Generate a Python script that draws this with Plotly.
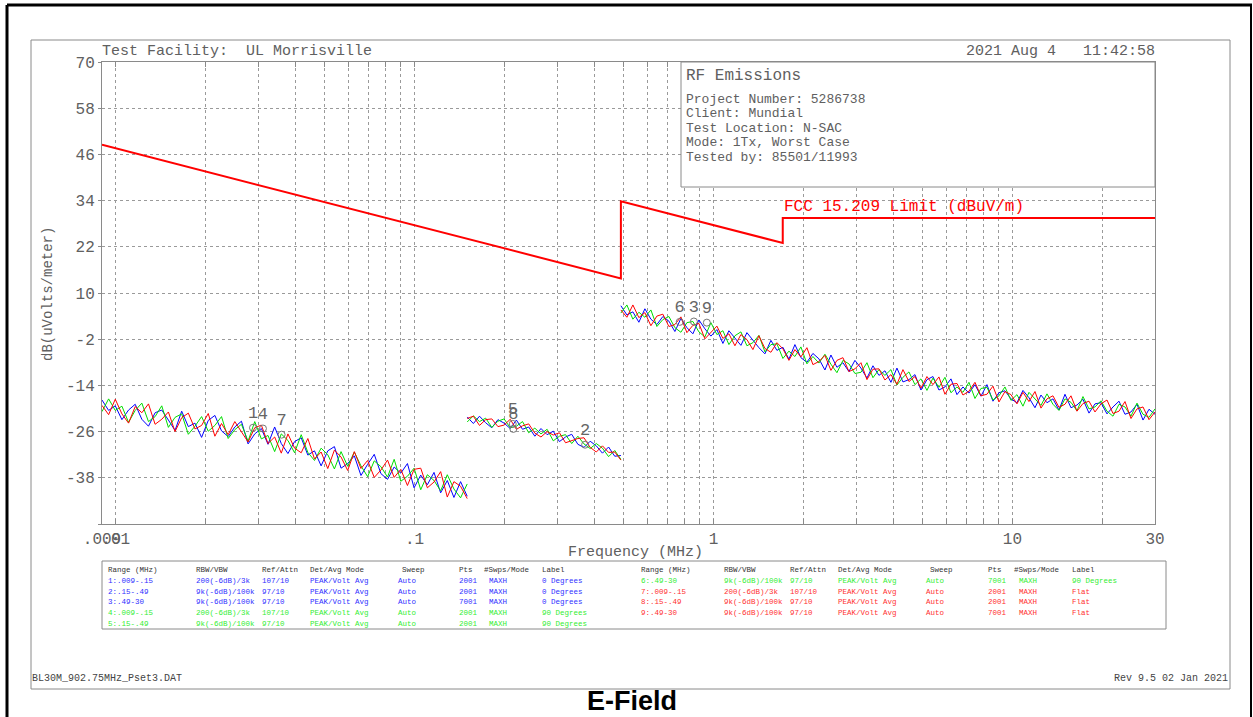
import numpy as np
import plotly.graph_objects as go

# ---------------------------------------------------------------- data
# Sweep sub-ranges (MHz); each stored trace is sampled evenly in log-frequency
range_1 = (0.009, 0.15)
range_2 = (0.15, 0.49)
range_3 = (0.49, 30.0)

# 0 Degrees antenna (blue)
blue_r1 = [-17.8, -20.5, -19.3, -22.9, -20.4, -18.9, -22.8, -24.6, -21.1, -20.4,
           -23.0, -25.7, -20.7, -24.7, -23.8, -27.5, -23.1, -21.8, -25.8, -27.3,
           -24.8, -23.3, -29.2, -26.6, -25.2, -29.3, -24.8, -29.1, -31.7, -28.6,
           -27.6, -32.1, -31.0, -34.9, -31.0, -29.9, -35.5, -34.3, -32.3, -37.4,
           -34.5, -31.9, -36.9, -38.4, -35.2, -36.8, -34.3, -40.6, -37.3, -39.8,
           -36.6, -41.9, -38.7, -43.1, -39.0, -42.8]
blue_r2 = [-22.2, -23.9, -22.0, -23.7, -25.0, -22.9, -23.8, -25.2, -23.0, -25.4,
           -24.8, -27.2, -25.2, -26.8, -25.9, -28.6, -27.4, -26.7, -29.3, -30.1,
           -28.5, -29.7, -31.6, -30.0, -32.4, -32.2]
blue_r3 = [6.7, 4.3, 5.1, 2.4, 5.9, 3.2, 1.8, 3.9, 2.7, 0.0,
           3.4, 1.0, -0.6, 3.0, 0.7, -1.2, 0.5, -3.1, 0.2, -1.7,
           -3.6, -0.3, -2.3, -4.2, -5.8, -2.3, -4.9, -4.1, -7.2, -3.4,
           -6.8, -8.0, -5.7, -7.1, -10.0, -6.1, -9.3, -8.1, -10.4, -7.5,
           -9.5, -12.1, -8.9, -11.4, -10.2, -13.2, -9.5, -13.1, -12.5, -11.2,
           -15.2, -12.5, -11.7, -15.2, -14.4, -12.3, -16.4, -14.4, -16.0, -13.8,
           -16.8, -13.8, -18.1, -15.9, -15.4, -17.5, -18.5, -15.3, -17.2, -19.8,
           -16.5, -18.5, -17.5, -20.4, -16.3, -19.8, -19.1, -17.6, -21.2, -18.8,
           -18.5, -21.4, -19.6, -18.1, -21.5, -20.9, -18.9, -23.0, -20.2, -21.5]

# 90 Degrees antenna (green)
green_r1 = [-20.8, -17.5, -20.5, -19.4, -23.6, -20.5, -18.6, -23.4, -22.1, -19.3,
            -24.9, -22.3, -21.4, -26.7, -24.6, -22.1, -25.9, -24.4, -22.1, -27.8,
            -25.5, -24.1, -28.5, -23.4, -27.9, -27.0, -31.2, -26.6, -28.3, -31.5,
            -26.8, -31.4, -33.5, -30.3, -32.0, -35.7, -31.2, -35.0, -31.3, -34.9,
            -37.7, -33.6, -35.1, -37.8, -33.2, -38.9, -37.6, -35.5, -41.1, -37.2,
            -38.7, -41.4, -37.2, -40.9, -43.2, -39.6]
green_r2 = [-23.5, -21.9, -23.4, -22.5, -24.9, -23.3, -22.7, -25.0, -24.6, -23.4,
            -26.3, -25.1, -26.6, -25.4, -28.4, -27.2, -26.8, -29.1, -27.2, -29.2,
            -30.4, -29.1, -30.3, -32.5, -30.9, -33.2]
green_r3 = [4.8, 6.9, 3.2, 5.0, 3.7, 5.6, 1.3, 3.1, 3.9, 1.0,
            -0.2, 2.3, 2.6, -0.1, -1.4, 2.3, -0.8, 0.2, -3.4, -1.1,
            -0.1, -3.7, -2.9, -1.0, -5.3, -3.4, -3.2, -7.0, -5.1, -6.5,
            -4.0, -8.4, -6.5, -8.2, -5.9, -8.5, -10.7, -7.5, -8.4, -10.9,
            -10.6, -8.1, -12.0, -9.9, -11.4, -9.9, -13.9, -11.9, -10.5, -13.8,
            -12.3, -15.3, -12.1, -14.5, -11.9, -15.9, -14.4, -15.8, -13.2, -17.4,
            -14.8, -14.5, -17.8, -16.7, -14.4, -17.9, -16.4, -19.4, -15.8, -17.4,
            -19.2, -16.2, -18.9, -20.5, -17.5, -18.4, -20.6, -16.9, -20.1, -19.6,
            -18.0, -20.7, -22.0, -18.9, -19.6, -22.0, -18.6, -21.5, -22.3, -20.1]

# Flat antenna (red)
red_r1 = [-19.2, -21.6, -17.6, -21.4, -23.8, -19.5, -21.1, -18.8, -24.1, -22.8,
          -20.9, -26.0, -22.4, -21.2, -25.3, -24.4, -21.3, -27.2, -23.9, -26.8,
          -23.4, -26.2, -28.7, -25.0, -24.3, -29.1, -27.4, -31.6, -26.6, -30.3,
          -31.5, -27.8, -33.1, -31.3, -35.6, -30.8, -32.6, -36.1, -31.2, -35.6,
          -33.5, -37.9, -36.0, -33.4, -37.9, -35.8, -40.0, -35.8, -35.5, -40.6,
          -39.1, -36.4, -43.0, -39.0, -40.2, -43.4]
red_r2 = [-22.6, -22.0, -24.4, -22.9, -22.7, -24.7, -24.3, -22.8, -25.4, -24.5,
          -24.0, -26.4, -27.4, -26.0, -26.9, -26.3, -28.9, -28.4, -27.8, -27.6,
          -30.1, -31.3, -29.7, -31.4, -31.3, -33.4]
red_r3 = [5.6, 3.7, 6.9, 3.6, 4.9, 1.5, 4.0, 4.5, 1.3, 1.8,
          3.8, -0.3, 1.6, 2.1, -1.9, -0.2, 1.4, -1.8, -0.6, -3.7,
          -0.8, -2.1, -4.7, -1.1, -4.4, -5.4, -2.9, -4.5, -7.5, -4.7,
          -6.6, -4.2, -8.6, -7.8, -6.2, -10.1, -7.5, -6.8, -10.4, -9.7,
          -8.1, -12.5, -9.8, -9.7, -12.6, -11.2, -13.7, -9.9, -13.0, -11.7,
          -14.7, -11.7, -13.8, -11.8, -16.3, -13.7, -13.5, -16.5, -15.5, -13.2,
          -16.7, -16.3, -14.2, -18.3, -15.6, -16.4, -18.8, -15.8, -18.2, -15.6,
          -19.9, -17.5, -16.7, -19.7, -18.9, -16.7, -20.7, -18.7, -18.1, -20.9,
          -18.8, -17.8, -21.3, -20.7, -18.2, -22.6, -20.1, -19.6, -22.9, -20.9]

# FCC 15.209 limit (dBuV/m)
limit_freq = [0.009, 0.49, 0.49, 1.705, 1.705, 30.0]
limit_level = [48.5, 13.8, 33.8, 23.0, 29.5, 29.5]

# Numbered markers
marker_ids = ["1", "4", "7", "5", "8", "2", "6", "3", "9"]
marker_freq = [0.0288, 0.0311, 0.0359, 0.213, 0.214, 0.372, 0.771, 0.86, 0.95]
marker_level = [-25.0, -25.2, -26.8, -24.0, -25.3, -29.4, 2.5, 2.6, 2.3]

# Axis ticks
y_ticks = [70, 58, 46, 34, 22, 10, -2, -14, -26, -38, -50]
x_labels = {0.009: ".009", 0.01: ".01", 0.1: ".1", 1: "1", 10: "10", 30: "30"}

# Info block
info_title = "RF Emissions"
info_lines = ["Project Number: 5286738", "Client: Mundial", "Test Location: N-SAC",
              "Mode: 1Tx, Worst Case", "Tested by: 85501/11993"]

# Trace setup table
table_header = ["Range (MHz)", "RBW/VBW", "Ref/Attn", "Det/Avg Mode", "Sweep", "Pts",
                "#Swps/Mode", "Label"]
table_left = [
    ["1:.009-.15", "200(-6dB)/3k", "107/10", "PEAK/Volt Avg", "Auto", "2001", "MAXH", "0 Degrees"],
    ["2:.15-.49", "9k(-6dB)/100k", "97/10", "PEAK/Volt Avg", "Auto", "2001", "MAXH", "0 Degrees"],
    ["3:.49-30", "9k(-6dB)/100k", "97/10", "PEAK/Volt Avg", "Auto", "7001", "MAXH", "0 Degrees"],
    ["4:.009-.15", "200(-6dB)/3k", "107/10", "PEAK/Volt Avg", "Auto", "2001", "MAXH", "90 Degrees"],
    ["5:.15-.49", "9k(-6dB)/100k", "97/10", "PEAK/Volt Avg", "Auto", "2001", "MAXH", "90 Degrees"],
]
table_right = [
    ["6:.49-30", "9k(-6dB)/100k", "97/10", "PEAK/Volt Avg", "Auto", "7001", "MAXH", "90 Degrees"],
    ["7:.009-.15", "200(-6dB)/3k", "107/10", "PEAK/Volt Avg", "Auto", "2001", "MAXH", "Flat"],
    ["8:.15-.49", "9k(-6dB)/100k", "97/10", "PEAK/Volt Avg", "Auto", "2001", "MAXH", "Flat"],
    ["9:.49-30", "9k(-6dB)/100k", "97/10", "PEAK/Volt Avg", "Auto", "7001", "MAXH", "Flat"],
]

# ---------------------------------------------------------------- style
W, H = 1253, 717
PL, PR, PT, PB = 102, 1155, 62, 524          # plot area (px)
MONO = "Liberation Mono"
GREY_TXT = "#606060"
GREY_LN = "#8a8a8a"
BLUE, GREEN, RED = "#0000ff", "#00dd00", "#ff0000"
TXT_BLUE, TXT_GREEN, TXT_RED = "#3030ff", "#33ee33", "#ff3030"


def px(x):
    return (x - PL) / (PR - PL)


def py(y):
    return (PB - y) / (PB - PT)


fig = go.Figure()

# measured traces, blue -> green -> red so red ends up on top
for color, segs in [(BLUE, [blue_r1, blue_r2, blue_r3]),
                    (GREEN, [green_r1, green_r2, green_r3]),
                    (RED, [red_r1, red_r2, red_r3])]:
    for (f0, f1), vals in zip([range_1, range_2, range_3], segs):
        fig.add_trace(go.Scatter(x=np.geomspace(f0, f1, len(vals)), y=vals, mode="lines",
                                 line=dict(color=color, width=1), hoverinfo="skip"))

# limit line
fig.add_trace(go.Scatter(x=limit_freq, y=limit_level, mode="lines",
                         line=dict(color=RED, width=2), hoverinfo="skip"))

# markers
fig.add_trace(go.Scatter(x=marker_freq, y=marker_level, mode="markers+text",
                         text=marker_ids, textposition="top center",
                         textfont=dict(family=MONO, size=17, color="#666666"),
                         marker=dict(symbol="circle-open", size=7,
                                     color="#777777", line=dict(width=1)),
                         hoverinfo="skip"))

# x grid at every 1..9 per decade
grid_x = [m * 10.0 ** d for d in (-2, -1, 0) for m in range(1, 10)] + [10.0, 20.0]
tick_x = sorted(set(grid_x) | set(x_labels))
tick_txt = [x_labels.get(v, x_labels.get(round(v, 6), "")) for v in tick_x]

fig.update_xaxes(type="log", range=[np.log10(0.009), np.log10(30)],
                 tickvals=tick_x, ticktext=tick_txt, tickangle=0,
                 ticks="inside", ticklen=5, tickcolor=GREY_LN,
                 showline=True, linecolor=GREY_LN, linewidth=1, mirror="ticks",
                 showgrid=True, gridcolor="#9a9a9a", griddash="dot", gridwidth=1,
                 zeroline=False, tickfont=dict(family=MONO, size=16, color=GREY_TXT))
fig.update_yaxes(range=[-50, 70], tickvals=y_ticks,
                 ticktext=[str(v) if v != -50 else "" for v in y_ticks],
                 ticks="outside", ticklen=3, tickcolor=GREY_LN,
                 showline=True, linecolor=GREY_LN, linewidth=1, mirror=True,
                 showgrid=True, gridcolor="#9a9a9a", griddash="dot", gridwidth=1,
                 zeroline=False, tickfont=dict(family=MONO, size=16, color=GREY_TXT))

shapes = []


def line(x0, y0, x1, y1, color=GREY_LN, width=1):
    shapes.append(dict(type="line", xref="paper", yref="paper", x0=px(x0), y0=py(y0),
                       x1=px(x1), y1=py(y1), line=dict(color=color, width=width),
                       layer="above"))


def rect(x0, y0, x1, y1, fill="rgba(0,0,0,0)", color=GREY_LN, width=1):
    shapes.append(dict(type="rect", xref="paper", yref="paper", x0=px(x0), y0=py(y0),
                       x1=px(x1), y1=py(y1), fillcolor=fill,
                       line=dict(color=color, width=width), layer="above"))


# outer page border
line(7, 5, 1252, 5, "black", 3)
line(7, 5, 7, 717, "black", 3)
line(1251, 5, 1251, 717, "black", 2)
# inner frame
rect(31, 40, 1230, 689)
# info block
rect(681, 62, 1155, 187, fill="white")
# setup table
rect(102, 561, 1166, 629, fill="white")

annotations = []


def text(x, y, s, size=15, color=GREY_TXT, anchor="left", family=MONO, angle=0, weight=None):
    f = dict(family=family, size=size, color=color)
    if weight:
        f["weight"] = weight
    annotations.append(dict(x=px(x), y=py(y), xref="paper", yref="paper", text=s,
                            showarrow=False, xanchor=anchor, yanchor="middle",
                            textangle=angle, font=f, borderpad=0))


text(101, 52, "Test Facility:  UL Morrisville", 15)
text(1156, 52, "2021 Aug 4   11:42:58", 15, anchor="right")
text(685, 76, info_title, 16)
for i, s in enumerate(info_lines):
    text(685, 99 + i * 14.5, s, 13)
text(783, 207, "FCC 15.209 Limit (dBuV/m)", 16, color=RED)
text(704, 552, "Frequency (MHz)", 15, anchor="right")
text(48, 294, "dB(uVolts/meter)", 14, angle=-90, anchor="center")

# setup table text
hdr_left_x = [107, 195, 261, 309, 401, 458, 483, 541]
row_left_x = [107, 195, 261, 309, 397, 458, 488, 541]
hdr_right_x = [640, 723, 789, 837, 929, 987, 1013, 1071]
row_right_x = [640, 723, 789, 837, 925, 987, 1018, 1071]
row_y = [581, 591.7, 602.4, 613, 623.7]
TS = 7.5
for xs, s in zip(hdr_left_x, table_header):
    text(xs, 570, s, TS, color="#333333")
for xs, s in zip(hdr_right_x, table_header):
    text(xs, 570, s, TS, color="#333333")
left_colors = [TXT_BLUE, TXT_BLUE, TXT_BLUE, TXT_GREEN, TXT_GREEN]
right_colors = [TXT_GREEN, TXT_RED, TXT_RED, TXT_RED]
for r, (row, c) in enumerate(zip(table_left, left_colors)):
    for xs, s in zip(row_left_x, row):
        text(xs, row_y[r], s, TS, color=c)
for r, (row, c) in enumerate(zip(table_right, right_colors)):
    for xs, s in zip(row_right_x, row):
        text(xs, row_y[r], s, TS, color=c)

text(31, 678, "BL30M_902.75MHz_Pset3.DAT", 10, color="#444444")
text(1229, 678, "Rev 9.5 02 Jan 2021", 10, color="#444444", anchor="right")
text(632, 701, "E-Field", 27, color="black", anchor="center",
     family="Liberation Sans", weight="bold")

fig.update_layout(width=W, height=H, autosize=False,
                  margin=dict(l=PL, r=W - PR, t=PT, b=H - PB, pad=0),
                  plot_bgcolor="white", paper_bgcolor="white", showlegend=False,
                  shapes=shapes, annotations=annotations)

fig.write_html("out.html")
